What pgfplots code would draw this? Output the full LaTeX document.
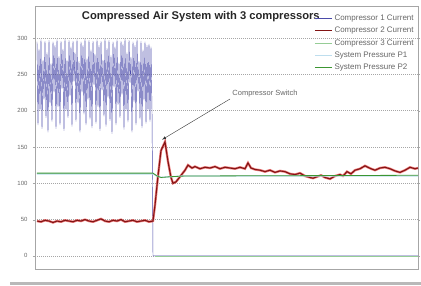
\documentclass[border=0pt]{standalone}
\usepackage{fontspec}
\setmainfont{Liberation Sans}
\usepackage{pgfplots}
\usepackage{pgfplotstable}
\pgfplotsset{compat=1.18}
\definecolor{cone}{RGB}{75,75,170}
\definecolor{ctwo}{RGB}{130,20,20}
\definecolor{ctwohalo}{RGB}{225,40,40}
\definecolor{cthree}{RGB}{150,205,150}
\definecolor{pone}{RGB}{190,222,238}
\definecolor{ptwo}{RGB}{60,150,50}
\pgfplotstableread{
x y
2 48
6 47
10 49
14 48
18 46
22 48
26 47
30 49
34 48
38 47
42 49
46 48
50 50
54 48
58 47
62 49
66 51
70 48
74 47
78 49
82 48
86 50
90 47
94 48
98 49
102 47
106 48
110 49
114 47
118 48
120 70
123 110
126 145
130 157
133 130
136 108
138 100
141 102
145 109
150 118
153 125
157 121
160 123
165 120
170 122
175 121
180 123
185 120
190 122
195 121
200 120
205 122
210 120
213 128
216 121
220 119
225 118
230 116
235 118
240 115
245 117
250 116
255 113
260 112
265 114
270 110
275 108
278 107
282 109
286 111
290 108
295 106
300 110
305 112
308 110
312 116
316 113
320 118
325 120
330 124
333 122
336 120
340 118
345 121
350 122
355 120
360 117
365 115
370 118
375 122
380 120
383 121
}\ctwotable
\begin{document}
\begin{tikzpicture}
\fill[gray!55] (-25pt,-16pt) rectangle (386pt,-12.5pt);
\useasboundingbox (-35pt,-16pt) rectangle (386pt,269pt);
\begin{axis}[
  at={(0pt,0pt)}, anchor=south west,
  scale only axis, width=383pt, height=263pt,
  xmin=0, xmax=383, ymin=-18, ymax=344,
  xtick=\empty,
  ytick={0,50,...,300},
  ymajorgrids,
  grid style={gray!70, dash pattern=on 1pt off 1pt, line width=0.5pt},
  axis line style={gray!70, line width=0.8pt},
  tick style={gray!70},
  major tick length=2pt, tick align=outside,
  /pgf/number format/assume math mode=true,
  yticklabel style={font=\fontsize{6}{6}\selectfont, text=gray!80!black, xshift=-2pt},
  legend style={at={(rel axis cs:0.997,0.978)}, anchor=north east, draw=none, fill=none,
    font=\fontsize{8}{8.5}\selectfont, text=gray!80!black, row sep=1.2pt, inner sep=1pt},
  legend cell align=left,
  clip=true,
]
\addlegendimage{cone, line width=0.6pt, line legend}
\addlegendentry{Compressor 1 Current}
\addlegendimage{ctwo, line width=1.3pt, line legend}
\addlegendentry{Compressor 2 Current}
\addlegendimage{cthree, line width=0.7pt, line legend}
\addlegendentry{Compressor 3 Current}
\addlegendimage{pone, line width=0.9pt, line legend}
\addlegendentry{System Pressure  P1}
\addlegendimage{ptwo, line width=0.7pt, line legend}
\addlegendentry{System Pressure P2}
% Compressor 1 Current
\addplot[cone, line width=0.45pt, forget plot] coordinates {
(2,295) (3,180) (4,285) (5,200) (6,298) (7,175) (8,270) (9,215) (10,296) (11,190)
(12,280) (13,170) (14,297) (15,210) (16,265) (17,185) (18,295) (19,225) (20,290) (21,175)
(22,298) (23,205) (24,275) (25,180) (26,296) (27,230) (28,285) (29,172) (30,299) (31,200)
(32,270) (33,190) (34,297) (35,220) (36,288) (37,178) (38,296) (39,240) (40,280) (41,185)
(42,298) (43,210) (44,268) (45,170) (46,295) (47,225) (48,290) (49,195) (50,299) (51,180)
(52,272) (53,215) (54,297) (55,188) (56,284) (57,176) (58,296) (59,235) (60,278) (61,182)
(62,298) (63,205) (64,290) (65,172) (66,296) (67,228) (68,270) (69,192) (70,299) (71,178)
(72,286) (73,218) (74,297) (75,186) (76,276) (77,168) (78,295) (79,232) (80,288) (81,180)
(82,298) (83,208) (84,266) (85,190) (86,296) (87,222) (88,292) (89,174) (90,299) (91,200)
(92,280) (93,184) (94,297) (95,238) (96,274) (97,170) (98,295) (99,212) (100,290) (101,180)
(102,298) (103,226) (104,268) (105,188) (106,296) (107,176) (108,284) (109,214) (110,295) (111,182)
(112,290) (113,200) (114,292) (115,185) (116,288) (117,200) (118,0) (383,0)
};
% Compressor 3 Current
\addplot[cthree, line width=0.6pt, forget plot] coordinates {(120,0) (383,0)};
% Compressor 2 Current (halo + line)
\addplot[ctwohalo, line width=2.4pt, opacity=0.6, forget plot] table {\ctwotable};
\addplot[ctwo, line width=1.1pt, forget plot] table {\ctwotable};
% System Pressure P1
\addplot[pone, line width=1.4pt, forget plot] coordinates {(2,113) (118,113) (122,110) (126,108) (135,109) (150,110) (383,110)};
% System Pressure P2
\addplot[ptwo, line width=0.8pt, forget plot] coordinates {(2,114) (118,114) (122,110) (126,108) (135,109) (150,110) (383,111)};
\node[font=\bfseries\fontsize{11.2}{12}\selectfont, text=gray!30!black] at (rel axis cs:0.433,0.958) {Compressed Air System with 3 compressors};
\node[font=\fontsize{7.5}{8}\selectfont, text=gray!80!black] at (axis cs:230,224) {Compressor Switch};
\draw[-latex, gray!40!black, line width=0.4pt] (axis cs:195,216) -- (axis cs:127,160);
\end{axis}
\end{tikzpicture}
\end{document}
